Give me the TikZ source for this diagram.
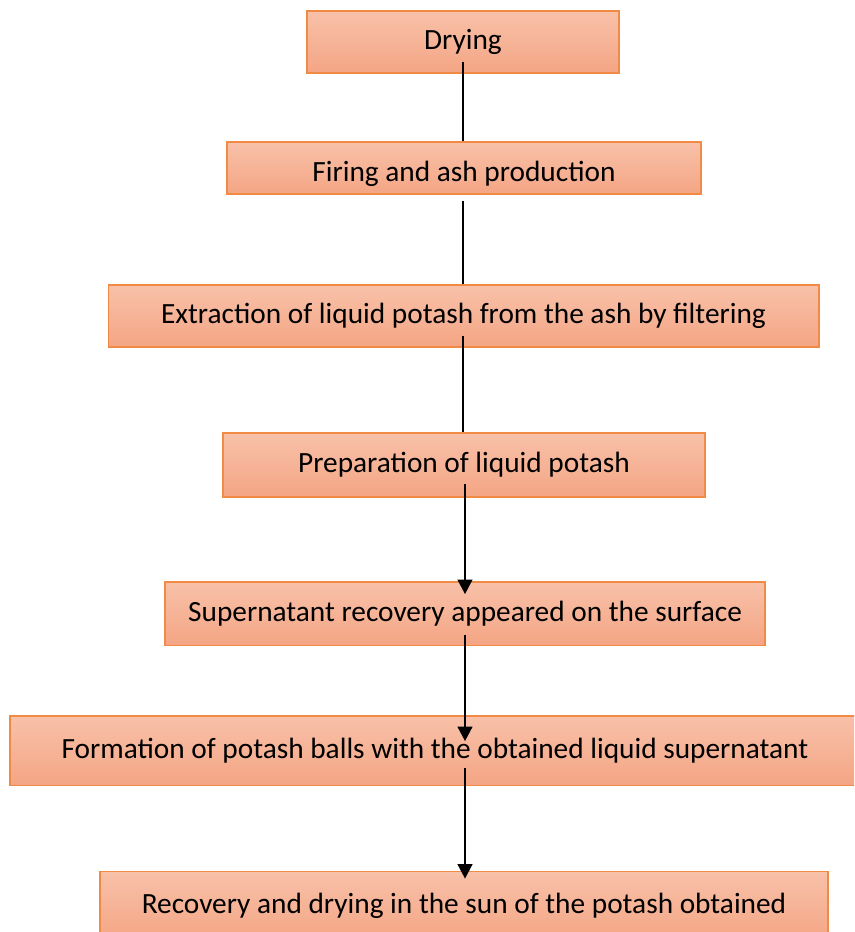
\documentclass[tikz,border=0pt]{standalone}
\usepackage{fontspec}
\setmainfont{Carlito}
\usepackage{xcolor}
\usetikzlibrary{calc,arrows.meta}

\definecolor{boxtop}{HTML}{F8C1A9}
\definecolor{boxbot}{HTML}{F4A584}
\definecolor{boxline}{HTML}{F08A45}

\tikzset{
  stepbox/.style={draw=boxline,line width=1pt,top color=boxtop,bottom color=boxbot,
    inner sep=0pt,font=\fontsize{22}{26}\selectfont},
  link/.style={line width=1.9pt},
  arrowlink/.style={line width=1.9pt,-{Triangle[width=11pt,length=11pt]}}
}

\begin{document}
\begin{tikzpicture}[x=0.75pt,y=-0.75pt]
\path[use as bounding box,clip] (0,0) rectangle (854,932);
% process steps
\node[stepbox,minimum width=234pt,minimum height=46.5pt] (dry) at (463,42) {Drying};
\node[stepbox,minimum width=355.5pt,minimum height=39pt,text height=24pt,text depth=4.5pt] (fire) at (464,168) {Firing and ash production};
\node[stepbox,minimum width=533pt,minimum height=46.5pt] (extr) at (463.5,316) {Extraction of liquid potash from the ash by filtering};
\node[stepbox,minimum width=361.5pt,minimum height=48pt] (prep) at (464,465) {Preparation of liquid potash};
\node[stepbox,minimum width=450pt,minimum height=47.5pt] (supn) at (465,613.5) {Supernatant recovery appeared on the surface};
\node[stepbox,minimum width=637.5pt,minimum height=52pt] (form) at (435,750.5) {Formation of potash balls with the obtained liquid supernatant};
\node[stepbox,minimum width=546pt,minimum height=52pt] (reco) at (464,906) {Recovery and drying in the sun of the potash obtained};
% connectors
\draw[link] ([yshift=9pt]dry.south) -- (dry.south |- fire.north);
\draw[link] ([yshift=-4.5pt]fire.south -| dry.south) -- (dry.south |- extr.north);
\draw[link] ([yshift=9pt]extr.south -| dry.south) -- (dry.south |- prep.north);
\draw[arrowlink] ([yshift=10pt]prep.south -| supn.north) -- ([yshift=-9.75pt]supn.north);
\draw[arrowlink] ([yshift=8.5pt]supn.south) -- ([yshift=-19.5pt]supn.south |- form.north);
\draw[arrowlink] ([yshift=13.5pt]form.south -| supn.south) -- ([yshift=-6pt]supn.south |- reco.north);
\end{tikzpicture}
\end{document}
